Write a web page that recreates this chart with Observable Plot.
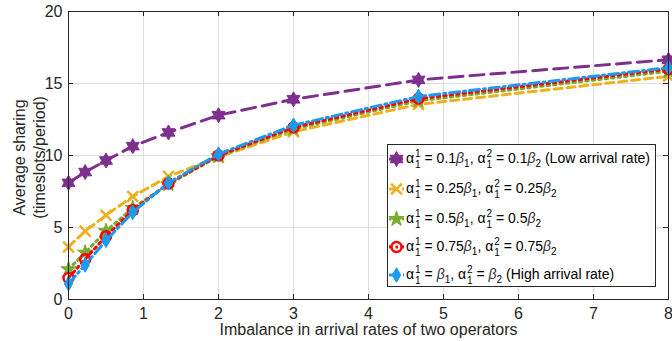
<!DOCTYPE html>
<html><head><meta charset="utf-8">
<script src="https://cdn.jsdelivr.net/npm/d3@7"></script>
<script src="https://cdn.jsdelivr.net/npm/@observablehq/plot@0.6"></script>
<style>
body{margin:0;background:#fff;font-family:"Liberation Sans",Arial,sans-serif;}
#wrap{position:relative;width:672px;height:341px;}
#legend{position:absolute;left:387px;top:144px;width:269px;height:143px;box-sizing:border-box;border:1px solid #262626;background:#fff;font-size:14px;color:#000;}
.row{position:absolute;left:0;height:28px;display:flex;align-items:center;white-space:nowrap;}
.row svg{flex:none;}
.txt{margin-left:1px;}
.ss{display:inline-block;vertical-align:-5px;font-size:10px;line-height:11px;margin-left:1px;}
.ss span{display:block;}
.b{font-style:italic;color:#333;}
.sb{font-size:10px;vertical-align:-4px;}
</style>
</head><body>
<div id="wrap"></div>
<script>
// ---- data ----
const xs = [0, 0.222, 0.5, 0.857, 1.333, 2, 3, 4.667, 8];
const lowRate = [8.1, 8.85, 9.65, 10.65, 11.6, 12.8, 13.9, 15.25, 16.65];
const rate025 = [3.65, 4.75, 5.85, 7.15, 8.55, 9.9, 11.65, 13.55, 15.5];
const rate05 = [2.1, 3.25, 4.75, 6.35, 8.0, 9.95, 11.85, 13.8, 15.85];
const rate075 = [1.5, 2.8, 4.4, 6.2, 8.05, 10.0, 11.95, 13.95, 16.0];
const highRate = [1.1, 2.4, 4.1, 6.05, 8.1, 10.1, 12.1, 14.1, 16.1];
const xTicks = [0, 1, 2, 3, 4, 5, 6, 7, 8];
const yTicks = [0, 5, 10, 15, 20];
const legendLabels = [
  ['0.1', '0.1', ' (Low arrival rate)'],
  ['0.25', '0.25', ''],
  ['0.5', '0.5', ''],
  ['0.75', '0.75', ''],
  ['', '', ' (High arrival rate)']
];

// ---- symbols ----
const hexagram = {
  draw(ctx, size) {
    const R = Math.sqrt(size / Math.PI);
    const r = R / Math.sqrt(3);
    for (let i = 0; i < 12; i++) {
      const a = -Math.PI / 2 + i * Math.PI / 6;
      const rr = i % 2 === 0 ? R : r;
      const px = rr * Math.cos(a), py = rr * Math.sin(a);
      if (i === 0) ctx.moveTo(px, py); else ctx.lineTo(px, py);
    }
    ctx.closePath();
  }
};

const series = [
  {ys: lowRate, color: "#7E2F8E", dash: "14,7", width: 3, symbol: hexagram, r: 7.5, fill: true, sw: 1},
  {ys: rate025, color: "#EDB120", dash: "8,5", width: 3, symbol: d3.symbolTimes, r: 5, fill: false, sw: 2.5},
  {ys: rate05, color: "#77AC30", dash: "2.5,4", width: 3, symbol: d3.symbolStar, r: 4.8, fill: true, sw: 1},
  {ys: rate075, color: "#FF0000", dash: "2.5,4", width: 3, symbol: "circle", r: 5, fill: false, sw: 2.5},
  {ys: highRate, color: "#1A9BF0", dash: "10,4,2,4", width: 3, symbol: d3.symbolDiamond, r: 4.4, fill: true, sw: 1}
];

const marks = [
  Plot.gridX(xTicks, {stroke: "#dedede", strokeOpacity: 1}),
  Plot.gridY(yTicks, {stroke: "#dedede", strokeOpacity: 1}),
];
for (const s of series) {
  const rows = xs.map((x, i) => ({x, y: s.ys[i]}));
  marks.push(Plot.line(rows, {x: "x", y: "y", stroke: s.color, strokeWidth: s.width, strokeDasharray: s.dash}));
  marks.push(Plot.dot(rows, {x: "x", y: "y", symbol: s.symbol, r: s.r,
    fill: s.fill ? s.color : "none", stroke: s.color, strokeWidth: s.sw}));
}
marks.push(
  Plot.frame({stroke: "#262626", strokeWidth: 1}),
  Plot.tickX(xTicks, {x: d => d, insetTop: 283, stroke: "#262626"}),
  Plot.tickX(xTicks, {x: d => d, insetBottom: 283, stroke: "#262626"}),
  Plot.tickY(yTicks, {y: d => d, insetRight: 595, stroke: "#262626"}),
  Plot.tickY(yTicks, {y: d => d, insetLeft: 595, stroke: "#262626"}),
  Plot.axisX(xTicks, {tickSize: 0, tickPadding: 8, fontSize: 16, label: null, tickFormat: d => String(d), fill: "#262626"}),
  Plot.axisY(yTicks, {tickSize: 0, tickPadding: 6, fontSize: 16, label: null, tickFormat: d => String(d), fill: "#262626"}),
  Plot.text(["Imbalance in arrival rates of two operators"], {frameAnchor: "bottom", lineAnchor: "middle", dy: 30, fontSize: 16, fill: "#262626"}),
  Plot.text(["Average sharing\n(timeslots/period)"], {frameAnchor: "left", textAnchor: "middle", lineAnchor: "middle", rotate: -90, dx: -40, dy: 2, fontSize: 16, lineHeight: 1.25, fill: "#262626"})
);

const chart = Plot.plot({
  width: 672, height: 341,
  marginLeft: 68, marginRight: 4, marginTop: 11, marginBottom: 42,
  style: {fontFamily: '"Liberation Sans", Arial, sans-serif', background: "#fff", color: "#262626"},
  x: {domain: [0, 8]},
  y: {domain: [0, 20]},
  marks
});
const wrap = document.getElementById("wrap");
wrap.appendChild(chart);

// ---- legend ----
const legend = document.createElement("div");
legend.id = "legend";
const centers = [14.3, 43.7, 73.7, 102, 130.3];
series.forEach((s, i) => {
  const row = document.createElement("div");
  row.className = "row";
  row.style.top = (centers[i] - 14) + "px";
  const svg = d3.create("svg").attr("width", 17).attr("height", 28);
  svg.append("line").attr("x1", 1).attr("x2", 16).attr("y1", 14).attr("y2", 14)
    .attr("stroke", s.color).attr("stroke-width", s.width).attr("stroke-dasharray", s.dash);
  const sym = s.symbol === "circle" ? d3.symbolCircle : s.symbol;
  svg.append("path").attr("transform", "translate(8.5,14)")
    .attr("d", d3.symbol(sym, s.r * s.r * Math.PI)())
    .attr("fill", s.fill ? s.color : "none").attr("stroke", s.color).attr("stroke-width", s.sw);
  row.appendChild(svg.node());
  const [c1, c2, tail] = legendLabels[i];
  const t = document.createElement("span");
  t.className = "txt";
  t.innerHTML = `α<span class="ss"><span>1</span><span>1</span></span> = ${c1}<span class="b">β</span><span class="sb">1</span>, α<span class="ss"><span>2</span><span>1</span></span> = ${c2}<span class="b">β</span><span class="sb">2</span>${tail}`;
  row.appendChild(t);
  legend.appendChild(row);
});
wrap.appendChild(legend);
</script>
</body></html>
